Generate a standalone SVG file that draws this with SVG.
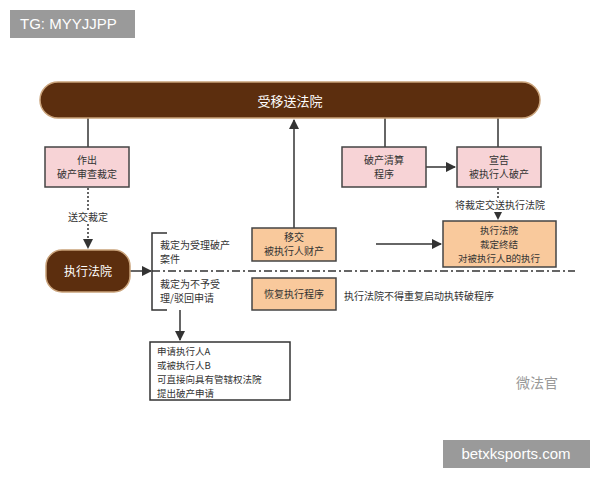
<svg xmlns="http://www.w3.org/2000/svg" width="600" height="480" viewBox="0 0 600 480">
<defs>
<style>
text{font-family:"Noto Sans CJK SC","Liberation Sans",sans-serif;font-size:10px;fill:#333}
.c{text-anchor:middle}
.s{font-size:9.5px}
.pink{fill:#f7d3d6;stroke:#444;stroke-width:1.5}
.org{fill:#f9c99c;stroke:#444;stroke-width:1.5}
.dark{fill:#5c2e0e;stroke:#c9a27a;stroke-width:1.5}
.ln{stroke:#333;stroke-width:1.5;fill:none}
.dot{stroke:#333;stroke-width:1.5;fill:none;stroke-dasharray:2 2}
.wt{fill:#fff}
.tag{fill:#9a9a9a}
</style>
<marker id="a" viewBox="0 0 10 10" refX="9" refY="5" markerWidth="7" markerHeight="7" orient="auto"><path d="M0,0L10,5L0,10z" fill="#333"/></marker>
</defs>
<rect width="600" height="480" fill="#fff"/>
<g id="tg"><rect x="10" y="10" width="125" height="28" class="tag"/><text x="20" y="29" class="wt" style="font-family:'Liberation Sans',sans-serif;font-size:15px">TG: MYYJJPP</text></g>
<g id="connectors">
<line x1="88" y1="118" x2="88" y2="147" class="ln"/>
<line x1="88" y1="188" x2="88" y2="248" class="dot" marker-end="url(#a)"/>
<line x1="130" y1="271" x2="151" y2="271" class="ln" marker-end="url(#a)"/>
<path d="M167,233H152V310H167" class="ln"/>
<line x1="152" y1="271" x2="575" y2="271" stroke="#333" stroke-width="1.5" stroke-dasharray="8 3 2 3"/>
<line x1="180" y1="310" x2="180" y2="340" class="ln" marker-end="url(#a)"/>
<line x1="294" y1="228" x2="294" y2="120" class="ln" marker-end="url(#a)"/>
<line x1="385" y1="118" x2="385" y2="147" class="ln"/>
<line x1="498" y1="118" x2="498" y2="147" class="ln"/>
<line x1="426" y1="167" x2="455" y2="167" class="ln" marker-end="url(#a)"/>
<line x1="498" y1="188" x2="498" y2="219" class="dot" marker-end="url(#a)"/>
<line x1="376" y1="244" x2="441" y2="244" class="ln" marker-end="url(#a)"/>
</g>
<g id="top"><rect x="40" y="82" width="500" height="36" rx="18" class="dark"/><text x="290" y="106" class="c wt" style="font-size:13px">受移送法院</text></g>
<g id="n1"><rect x="45" y="147" width="84" height="40" class="pink"/><text x="87" y="164" class="c">作出</text><text x="87" y="178" class="c">破产审查裁定</text></g>
<rect x="62" y="210" width="52" height="14" fill="#fff"/>
<text x="88" y="221" class="c">送交裁定</text>
<g id="n2"><rect x="46" y="250" width="84" height="42" rx="16" class="dark"/><text x="88" y="276" class="c wt" style="font-size:12px">执行法院</text></g>
<g id="labels"><text x="160" y="249">裁定为受理破产</text><text x="160" y="263">案件</text><text x="160" y="288">裁定为不予受</text><text x="160" y="302">理/驳回申请</text></g>
<g id="n3"><rect x="150" y="342" width="140" height="58" fill="#fff" stroke="#333" stroke-width="1.5"/><text class="s" x="157" y="355">申请执行人A</text><text class="s" x="157" y="369">或被执行人B</text><text class="s" x="157" y="383">可直接向具有管辖权法院</text><text class="s" x="157" y="397">提出破产申请</text></g>
<g id="n4"><rect x="252" y="228" width="84" height="33" class="org"/><text x="294" y="241" class="c">移交</text><text x="294" y="255" class="c">被执行人财产</text></g>
<g id="n5"><rect x="252" y="278" width="84" height="32" class="org"/><text x="294" y="298" class="c">恢复执行程序</text></g>
<text x="344" y="300">执行法院不得重复启动执转破程序</text>
<g id="n6"><rect x="342" y="147" width="84" height="40" class="pink"/><text x="384" y="164" class="c">破产清算</text><text x="384" y="178" class="c">程序</text></g>
<g id="n7"><rect x="457" y="147" width="84" height="40" class="pink"/><text x="499" y="164" class="c">宣告</text><text x="499" y="178" class="c">被执行人破产</text></g>
<rect x="450" y="199" width="100" height="13" fill="#fff"/>
<text x="500" y="209" class="c">将裁定交送执行法院</text>
<g id="n8"><rect x="443" y="221" width="113" height="46" class="org"/><text class="c s" x="499" y="234">执行法院</text><text class="c s" x="499" y="248">裁定终结</text><text class="c s" x="499" y="262">对被执行人B的执行</text></g>
<text x="558" y="388" style="font-size:14px;fill:#999;text-anchor:end">微法官</text>
<g id="site"><rect x="443" y="440" width="147" height="28" class="tag"/><text x="516" y="459" class="c wt" style="font-family:'Liberation Sans',sans-serif;font-size:15px">betxksports.com</text></g>
</svg>
